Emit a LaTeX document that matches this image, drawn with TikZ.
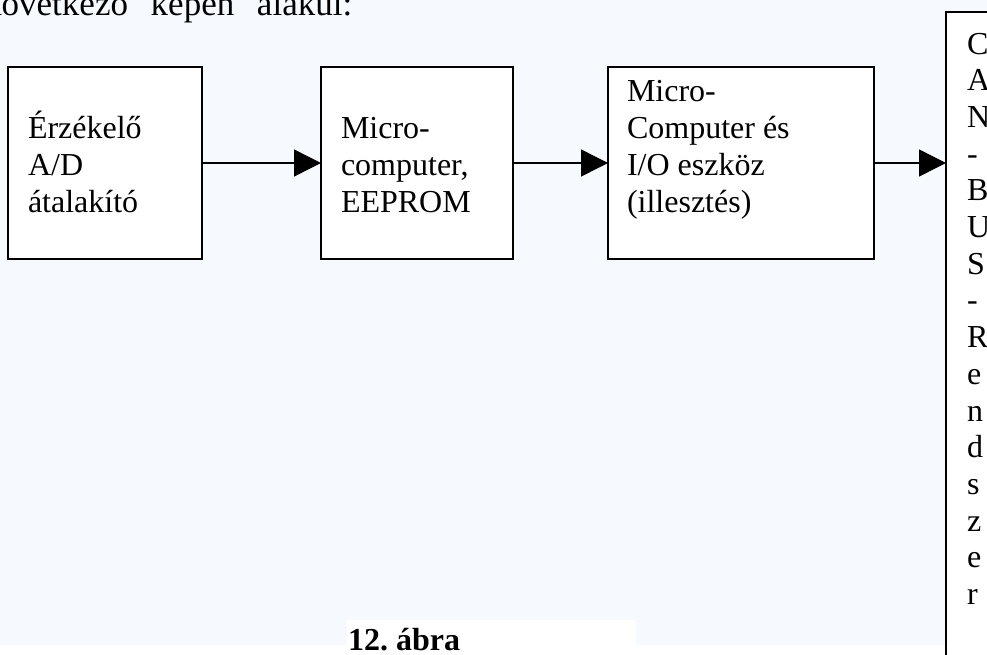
\documentclass[tikz,border=0pt]{standalone}
\usepackage{fontspec}
\setmainfont{Liberation Serif}
\usetikzlibrary{arrows.meta}
\frenchspacing

\definecolor{pagetint}{RGB}{246,250,255}
\newcommand\boxfont{\fontsize{32}{37}\selectfont}
\newcommand\busfont{\fontsize{32}{36.7}\selectfont}

\tikzset{
  blockbox/.style={draw, fill=white, line width=1.4pt, rectangle,
    inner sep=0pt, outer sep=0pt, anchor=north west},
  blocktext/.style={anchor=base west, inner sep=0pt, outer sep=0pt,
    font=\boxfont},
  flow/.style={line width=1.4pt, -{Triangle[length=27pt,width=27pt]}},
}

\begin{document}
\begin{tikzpicture}[x=1pt, y=-1pt]
  \useasboundingbox (0,0) rectangle (987,654);
  \clip (0,0) rectangle (987,654);

  % page background
  \fill[white] (0,0) rectangle (987,654);
  \fill[pagetint] (0,0) rectangle (987,645);

  % running text above the figure
  \node[anchor=base west, inner sep=0pt, font=\fontsize{35}{40}\selectfont]
    (intro) at (-16,15) {\makebox[368pt][s]{következő képen alakul:}};

  % processing chain
  \node[blockbox, minimum width=194pt, minimum height=192pt] (sensor) at (8,67) {};
  \node[blockbox, minimum width=192pt, minimum height=192pt] (eeprom) at (321,67) {};
  \node[blockbox, minimum width=266pt, minimum height=192pt] (io) at (608,67) {};
  \node[blockbox, minimum width=60pt, minimum height=660pt] (bus) at (946,12) {};

  \node[blocktext] (sensortxt) at (28,138)
    {\parbox[t]{170pt}{\raggedright Érzékelő\\A/D\\átalakító}};
  \node[blocktext] (eepromtxt) at (341,138)
    {\parbox[t]{170pt}{\raggedright Micro-\\computer,\\EEPROM}};
  \node[blocktext] (iotxt) at (627,101)
    {\parbox[t]{240pt}{\raggedright Micro-\\Computer és\\I/O eszköz\\(illesztés)}};
  \node[anchor=base west, inner sep=0pt, font=\busfont] (bustxt) at (967,54)
    {\parbox[t]{20pt}{\raggedright C\\A\\N\\-\\B\\U\\S\\-\\R\\e\\n\\d\\s\\z\\e\\r}};

  % connectors
  \draw[flow] (sensor.east) -- (eeprom.west);
  \draw[flow] (eeprom.east) -- (io.west);
  \draw[flow] (io.east) -- (io.east -| bus.west);

  % caption
  \fill[white] (347,620) rectangle (636,654);
  \node[anchor=base west, inner sep=0pt, font=\fontsize{32}{37}\selectfont\bfseries]
    (caption) at (348,650) {12. ábra};
\end{tikzpicture}
\end{document}
